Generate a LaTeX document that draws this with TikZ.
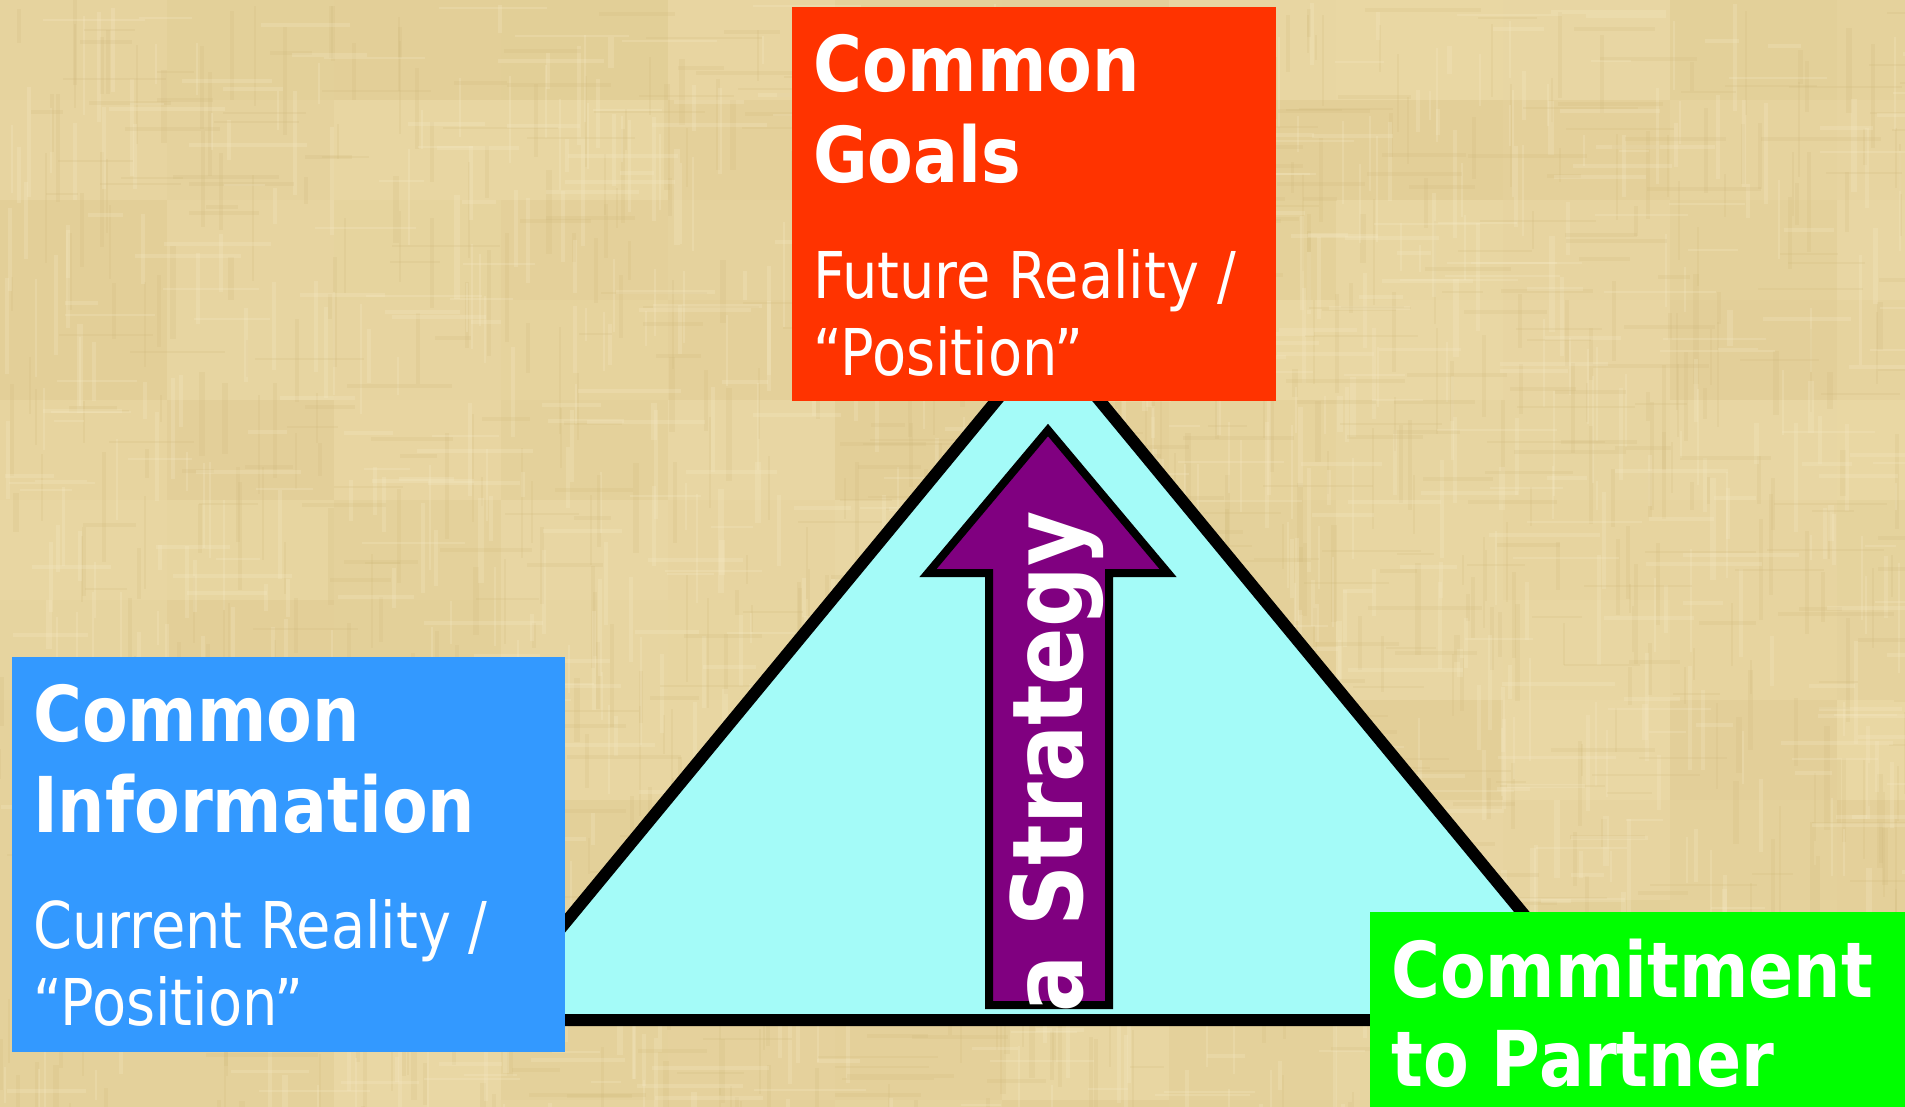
\documentclass[tikz,border=0pt]{standalone}
\usepackage{fontspec}
\newfontfamily\slidefont{DejaVu Sans}[FakeStretch=0.865]

\definecolor{paperbase}{RGB}{231,212,158}
\definecolor{paperdark}{RGB}{206,182,120}
\definecolor{paperlight}{RGB}{246,234,198}
\definecolor{tricyan}{RGB}{164,251,248}
\definecolor{goalred}{RGB}{255,51,0}
\definecolor{infoblue}{RGB}{51,153,255}
\definecolor{partgreen}{RGB}{0,255,0}
\definecolor{stratpurple}{RGB}{128,0,128}

\tikzset{
  panel/.style={draw=none, inner sep=0pt, anchor=north west},
  headtext/.style={text=white, inner sep=0pt, anchor=base west,
    font=\slidefont\fontsize{77}{91}\selectfont\bfseries},
  subtext/.style={text=white, inner sep=0pt, anchor=base west,
    font=\slidefont\fontsize{64.5}{77}\selectfont},
  stratext/.style={text=white, inner sep=0pt, anchor=base west, rotate=90,
    font=\slidefont\fontsize{98}{110}\selectfont\bfseries},
  triangleshape/.style={fill=tricyan, draw=black, line width=12pt, line join=miter},
  arrowshape/.style={fill=stratpurple, draw=black, line width=8pt, line join=miter},
  streakdark/.style={draw=paperdark, opacity=0.18},
  streaklight/.style={draw=paperlight, opacity=0.25}
}

\begin{document}
\begin{tikzpicture}[x=1pt, y=-1pt]
\useasboundingbox (0,0) rectangle (1905,1106);

% papyrus-like background
\fill[paperbase] (-10,-10) rectangle (1915,1116);
\pgfmathsetseed{11}
\foreach \i in {0,...,11}{
  \foreach \j in {0,...,11}{
    \pgfmathsetmacro\sh{random(0,100)}
    \fill[paperlight!\sh!paperdark, opacity=0.16] (\i*167,\j*100) rectangle ++(167,100);
  }
}
\foreach \k in {1,...,700}{
  \pgfmathsetmacro\xa{random(0,1905)}
  \pgfmathsetmacro\ya{random(0,1106)}
  \pgfmathsetmacro\len{random(25,110)}
  \pgfmathsetmacro\w{1.5+4*rnd}
  \draw[streakdark, line width=\w pt] (\xa,\ya) -- ++(0,\len);
}
\foreach \k in {1,...,700}{
  \pgfmathsetmacro\xa{random(0,1905)}
  \pgfmathsetmacro\ya{random(0,1106)}
  \pgfmathsetmacro\len{random(25,110)}
  \pgfmathsetmacro\w{1.5+4*rnd}
  \draw[streaklight, line width=\w pt] (\xa,\ya) -- ++(0,\len);
}
\foreach \k in {1,...,400}{
  \pgfmathsetmacro\xa{random(0,1905)}
  \pgfmathsetmacro\ya{random(0,1106)}
  \pgfmathsetmacro\len{random(30,120)}
  \pgfmathsetmacro\w{1.5+3*rnd}
  \draw[streakdark, line width=\w pt] (\xa,\ya) -- ++(\len,0);
}
\foreach \k in {1,...,400}{
  \pgfmathsetmacro\xa{random(0,1905)}
  \pgfmathsetmacro\ya{random(0,1106)}
  \pgfmathsetmacro\len{random(30,120)}
  \pgfmathsetmacro\w{1.5+3*rnd}
  \draw[streaklight, line width=\w pt] (\xa,\ya) -- ++(\len,0);
}

% triangle
\coordinate (apex) at (1048,338);
\coordinate (baseL) at (485,1020);
\coordinate (baseR) at (1611,1020);
\filldraw[triangleshape] (apex) -- (baseL) -- (baseR) -- cycle;

% upward strategy arrow
\coordinate (tip) at (1048,430);
\coordinate (headR) at (1168,573);
\coordinate (shaftRtop) at (1109,573);
\coordinate (shaftRbot) at (1109,1005);
\coordinate (shaftLbot) at (989,1005);
\coordinate (shaftLtop) at (989,573);
\coordinate (headL) at (928,573);
\filldraw[arrowshape] (tip) -- (headR) -- (shaftRtop) -- (shaftRbot)
  -- (shaftLbot) -- (shaftLtop) -- (headL) -- cycle;
\node[stratext] (strategy) at (1082,1013) {a Strategy};

% goals panel
\node[panel, fill=goalred, minimum width=484pt, minimum height=394pt] (goals) at (792,7) {};
\node[headtext] (goalsA) at (813,91) {Common};
\node[headtext] (goalsB) at (813,182) {Goals};
\node[subtext] (goalsC) at (813,298) {Future Reality /};
\node[subtext] (goalsD) at (813,375) {“Position”};

% information panel
\node[panel, fill=infoblue, minimum width=553pt, minimum height=395pt] (info) at (12,657) {};
\node[headtext] (infoA) at (33,741) {Common};
\node[headtext] (infoB) at (33,832) {Information};
\node[subtext] (infoC) at (33,948) {Current Reality /};
\node[subtext] (infoD) at (33,1025) {“Position”};

% partner panel
\node[panel, fill=partgreen, minimum width=545pt, minimum height=204pt] (partner) at (1370,912) {};
\node[headtext] (partA) at (1391,997) {Commitment};
\node[headtext] (partB) at (1391,1086) {to Partner};
\end{tikzpicture}
\end{document}
